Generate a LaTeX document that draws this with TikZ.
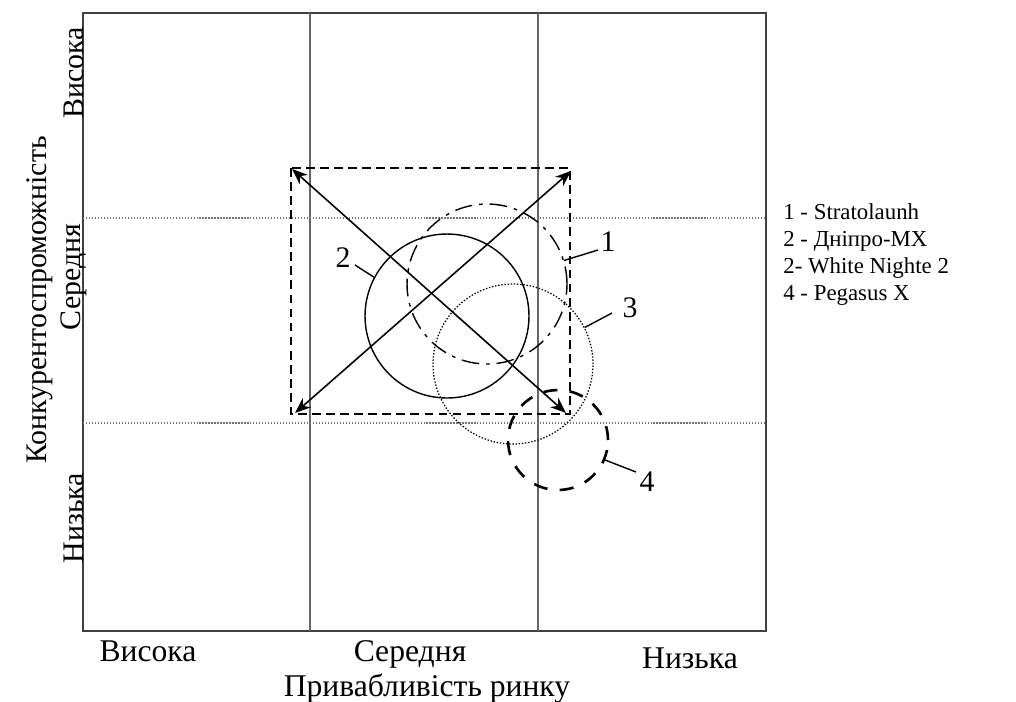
\documentclass[tikz,border=0pt]{standalone}
\usepackage{fontspec}
\setmainfont{Liberation Serif}
\usetikzlibrary{arrows.meta, positioning}

\begin{document}
\begin{tikzpicture}[x=0.02cm, y=-0.02cm,
        frame/.style={draw=black!75, line width=0.9pt},
        vgrid/.style={draw=black!60, line width=0.6pt},
        hgrid/.style={draw=black!55, line width=0.7pt, densely dotted},
        lbl/.style={font=\fontsize{17}{20}\selectfont, inner sep=0pt},
        xlbl/.style={font=\fontsize{18}{21}\selectfont, inner sep=0pt, anchor=base},
        ring/.style={circle, draw, inner sep=0pt, line width=0.8pt},
        arrow/.style={{Stealth[length=9pt, width=7pt]}-{Stealth[length=9pt, width=7pt]}, line width=0.9pt},
        lead/.style={line width=0.8pt}
    ]
        \useasboundingbox (0,0) rectangle (1016,701);

        % matrix frame and grid
        \draw[frame] (83,13) rectangle (766,631);
        \draw[vgrid] (310,13) -- (310,631);
        \draw[vgrid] (538,13) -- (538,631);
        \draw[hgrid] (83,218) -- (766,218);
        \draw[hgrid] (83,423) -- (766,423);

        % axis labels
        \node[xlbl] (xhigh) at (148,661) {Висока};
        \node[xlbl] (xmid) at (410,661) {Середня};
        \node[xlbl] (xlow) at (690,668) {Низька};
        \node[xlbl] (xname) at (427,696) {Привабливість ринку};
        \node[lbl, rotate=90] (yhigh) at (74,73) {Висока};
        \node[lbl, rotate=90] (ymid) at (74,277) {Середня};
        \node[lbl, rotate=90] (ylow) at (74,518) {Низька};
        \node[lbl, rotate=90] (yname) at (40,300) {Конкурентоспроможність};

        % range of Дніпро-МХ
        \draw[line width=1pt, dash pattern=on 5pt off 3pt] (291,168) rectangle (570,414);
        \coordinate (tl) at (292,169);
        \coordinate (br) at (566,413);
        \coordinate (bl) at (295,413);
        \coordinate (tr) at (571,171);
        \draw[arrow] (tl) -- (br);
        \draw[arrow] (bl) -- (tr);

        % projects
        \node[ring, minimum size=3.28cm] (c2) at (447,316) {};
        \node[ring, minimum size=3.2cm, dash pattern=on 10pt off 4pt on 2pt off 4pt] (c1) at (487,284) {};
        \node[ring, minimum size=3.2cm, densely dotted, line width=0.7pt] (c3) at (513,364) {};
        \node[ring, minimum size=2cm, line width=1.5pt, dash pattern=on 8pt off 7pt] (c4) at (558,440) {};

        \node[lbl] (n1) at (608,242) {1};
        \node[lbl] (n2) at (343,258) {2};
        \node[lbl] (n3) at (630,308) {3};
        \node[lbl] (n4) at (647,482) {4};
        \coordinate (k1) at (598,250);
        \coordinate (k2) at (355,265);
        \coordinate (k3) at (612,313);
        \coordinate (k4) at (636,472);
        \draw[lead] (c1.17) -- (k1);
        \draw[lead] (c2.152) -- (k2);
        \draw[lead] (c3.27) -- (k3);
        \draw[lead] (c4.-23) -- (k4);

        % legend
        \node[anchor=north west, align=left, inner sep=0pt, font=\fontsize{13}{15.5}\selectfont] (legend) at (783,203)
            {1 - Stratolaunh\\2 - Дніпро-МХ\\2- White Nighte 2\\4 - Pegasus X};
    \end{tikzpicture}
\end{document}
